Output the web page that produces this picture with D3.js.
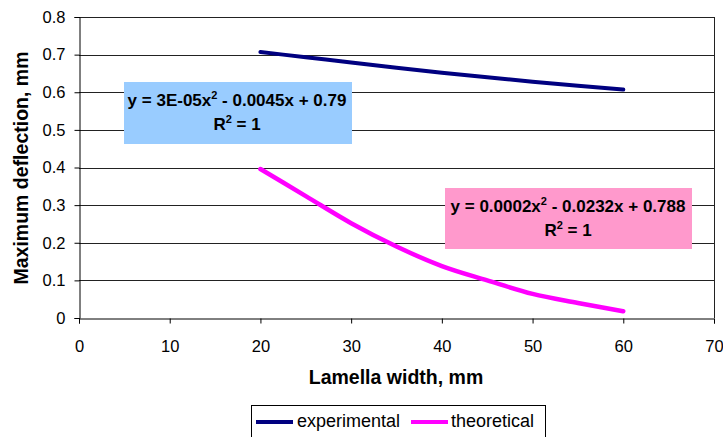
<!DOCTYPE html>
<html><head><meta charset="utf-8">
<script src="https://cdn.jsdelivr.net/npm/d3@7"></script>
<style>body{margin:0;background:#fff;} text{font-family:"Liberation Sans",Arial,sans-serif;}</style>
</head><body>
<script>
const xValues = [20, 25, 30, 35, 40, 45, 50, 55, 60];
const experimental = [0.707, 0.693, 0.679, 0.665, 0.652, 0.640, 0.628, 0.617, 0.607];
const theoretical = [0.396, 0.324, 0.252, 0.190, 0.138, 0.100, 0.064, 0.040, 0.018];
const xTicks = [0, 10, 20, 30, 40, 50, 60, 70];
const yTicks = [0, 0.1, 0.2, 0.3, 0.4, 0.5, 0.6, 0.7, 0.8];
const seriesNames = ["experimental", "theoretical"];
const seriesColors = ["#000080", "#FF00FF"];
const eqExp = ["y = 3E-05x", " - 0.0045x + 0.79"];
const eqTheo = ["y = 0.0002x", " - 0.0232x + 0.788"];

const W = 723, H = 437;
const svg = d3.select("body").append("svg").attr("width", W).attr("height", H);
const x = d3.scaleLinear().domain([0, 70]).range([79, 714]);
const y = d3.scaleLinear().domain([0, 0.8]).range([318, 17]);

// gridlines
svg.append("g").selectAll("line").data(yTicks.slice(1)).join("line")
  .attr("x1", x(0)).attr("x2", x(70)).attr("y1", d => Math.round(y(d)) + 0.5).attr("y2", d => Math.round(y(d)) + 0.5)
  .attr("stroke", "#222").attr("stroke-width", 1);
// right border
svg.append("line").attr("x1", x(70) + 0.5).attr("x2", x(70) + 0.5).attr("y1", Math.round(y(0.8))).attr("y2", y(0))
  .attr("stroke", "#222");

// axes
const xAxis = svg.append("g").attr("transform", `translate(0,${Math.round(y(0)) + 0.5})`)
  .call(d3.axisBottom(x).tickValues(xTicks).tickSize(5).tickPadding(17).tickFormat(d3.format("d")));
const yAxis = svg.append("g").attr("transform", `translate(${Math.round(x(0)) + 0.5},0)`)
  .call(d3.axisLeft(y).tickValues(yTicks).tickSize(5).tickPadding(9).tickFormat(d => d === 0 ? "0" : d3.format(".1f")(d)));
[xAxis, yAxis].forEach(a => {
  a.select(".domain").attr("stroke", "#000");
  a.selectAll(".tick line").attr("stroke", "#000");
  a.selectAll("text").attr("font-size", 16.5).attr("fill", "#000").attr("font-family", "Liberation Sans, Arial, sans-serif");
});

// axis titles
svg.append("text").attr("x", 396).attr("y", 384).attr("text-anchor", "middle")
  .attr("font-size", 19.5).attr("font-weight", "bold").text("Lamella width, mm");
svg.append("text").attr("transform", "translate(28,168) rotate(-90)").attr("text-anchor", "middle")
  .attr("font-size", 19.5).attr("font-weight", "bold").text("Maximum deflection, mm");

// lines
const line = d3.line().x(d => x(d[0])).y(d => y(d[1])).curve(d3.curveMonotoneX);
[experimental, theoretical].forEach((vals, i) => {
  svg.append("path").datum(xValues.map((v, j) => [v, vals[j]]))
    .attr("d", line).attr("fill", "none").attr("stroke", seriesColors[i])
    .attr("stroke-width", i === 0 ? 4 : 4.5).attr("stroke-linecap", "round").attr("stroke-linejoin", "round");
});

// equation boxes
function eqBox(bx, by, bw, bh, fill, eq, cx) {
  svg.append("rect").attr("x", bx).attr("y", by).attr("width", bw).attr("height", bh).attr("fill", fill);
  const t1 = svg.append("text").attr("x", cx).attr("y", by + 24).attr("text-anchor", "middle")
    .attr("font-size", 17).attr("font-weight", "bold");
  t1.append("tspan").text(eq[0]);
  t1.append("tspan").attr("dy", -7).attr("font-size", 11).text("2");
  t1.append("tspan").attr("dy", 7).text(eq[1]);
  const t2 = svg.append("text").attr("x", cx).attr("y", by + 48).attr("text-anchor", "middle")
    .attr("font-size", 17).attr("font-weight", "bold");
  t2.append("tspan").text("R");
  t2.append("tspan").attr("dy", -7).attr("font-size", 11).text("2");
  t2.append("tspan").attr("dy", 7).text(" = 1");
}
eqBox(124, 82, 228, 62, "#99CCFF", eqExp, 237);
eqBox(445, 188, 247, 61, "#FF99CC", eqTheo, 568);

// legend
const lg = svg.append("g");
lg.append("rect").attr("x", 251.5).attr("y", 405.5).attr("width", 294).attr("height", 40)
  .attr("fill", "#fff").attr("stroke", "#000");
const legendItems = [{x0: 256, tx: 297}, {x0: 411, tx: 451}];
legendItems.forEach((it, i) => {
  lg.append("line").attr("x1", it.x0).attr("x2", it.x0 + 37).attr("y1", 422).attr("y2", 422)
    .attr("stroke", seriesColors[i]).attr("stroke-width", 4);
  lg.append("text").attr("x", it.tx).attr("y", 427).attr("font-size", 18).text(seriesNames[i]);
});
</script>
</body></html>
